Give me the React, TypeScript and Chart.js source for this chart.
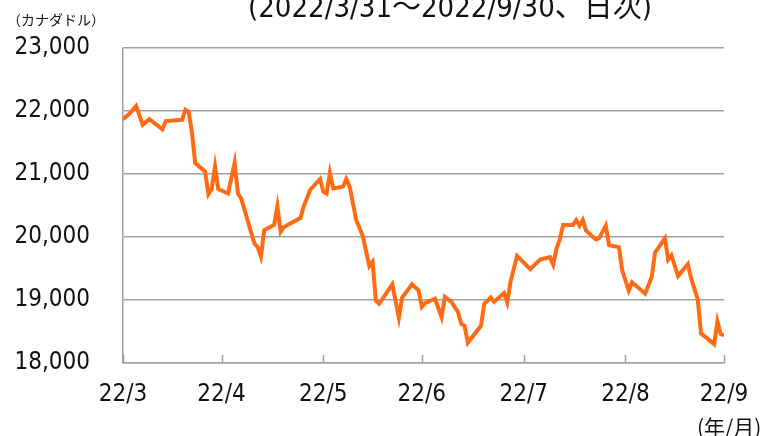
import React, { useEffect, useRef } from "react";
import { Chart, registerables } from "chart.js";

Chart.register(...registerables);

const dates = [
  "2022-03-31", "2022-04-02", "2022-04-04", "2022-04-06", "2022-04-08", "2022-04-12", "2022-04-13",
  "2022-04-18", "2022-04-19", "2022-04-20", "2022-04-21", "2022-04-22", "2022-04-25", "2022-04-26",
  "2022-04-27", "2022-04-28", "2022-04-29", "2022-05-02", "2022-05-04", "2022-05-05", "2022-05-06",
  "2022-05-10", "2022-05-11", "2022-05-12", "2022-05-13", "2022-05-16", "2022-05-17", "2022-05-18",
  "2022-05-19", "2022-05-24", "2022-05-25", "2022-05-27", "2022-05-30", "2022-05-31", "2022-06-01",
  "2022-06-02", "2022-06-03", "2022-06-06", "2022-06-07", "2022-06-08", "2022-06-10", "2022-06-12",
  "2022-06-14", "2022-06-15", "2022-06-16", "2022-06-17", "2022-06-21", "2022-06-23", "2022-06-24",
  "2022-06-27", "2022-06-29", "2022-06-30", "2022-07-01", "2022-07-04", "2022-07-06", "2022-07-07",
  "2022-07-09", "2022-07-11", "2022-07-12", "2022-07-13", "2022-07-14", "2022-07-18", "2022-07-19",
  "2022-07-21", "2022-07-22", "2022-07-25", "2022-07-26", "2022-07-27", "2022-07-29", "2022-08-02",
  "2022-08-05", "2022-08-08", "2022-08-09", "2022-08-10", "2022-08-11", "2022-08-12", "2022-08-15",
  "2022-08-16", "2022-08-17", "2022-08-18", "2022-08-19", "2022-08-22", "2022-08-23", "2022-08-25",
  "2022-08-26", "2022-08-29", "2022-08-30", "2022-09-01", "2022-09-02", "2022-09-06", "2022-09-08",
  "2022-09-09", "2022-09-12", "2022-09-13", "2022-09-14", "2022-09-16", "2022-09-19", "2022-09-20",
  "2022-09-22", "2022-09-23", "2022-09-27", "2022-09-28", "2022-09-29", "2022-09-30",
];

const values = [
  21870, 21960, 22080, 21780, 21870, 21710, 21840,
  21860, 22020, 21990, 21650, 21170, 21040, 20680,
  20760, 21120, 20760, 20690, 21180, 20690, 20610,
  19900, 19840, 19690, 20110, 20190, 20490, 20080,
  20160, 20300, 20480, 20750, 20920, 20720, 20690,
  21020, 20770, 20800, 20920, 20800, 20270, 20020,
  19540, 19610, 18990, 18940, 19250, 18720, 19040,
  19250, 19150, 18890, 18950, 19020, 18730, 19050,
  18970, 18810, 18620, 18590, 18320, 18590, 18940,
  19040, 18970, 19110, 18960, 19290, 19700, 19490,
  19640, 19680, 19560, 19820, 19960, 20190, 20190,
  20270, 20180, 20270, 20100, 19960, 19980, 20180,
  19870, 19840, 19470, 19150, 19280, 19100, 19370,
  19750, 19980, 19640, 19710, 19380, 19570, 19340,
  19010, 18470, 18300, 18660, 18460, 18440,
];

const tickDates = ["2022-03-31", "2022-04-30", "2022-05-31", "2022-06-30", "2022-07-31", "2022-08-31", "2022-09-30"];
const tickLabels = ["22/3", "22/4", "22/5", "22/6", "22/7", "22/8", "22/9"];
const yTicks = [18000, 19000, 20000, 21000, 22000, 23000];

const titleText = "(2022/3/31～2022/9/30、日次)";
const yUnitText = "（カナダドル）";
const xUnitText = "(年/月)";

const BASE = Date.UTC(2022, 2, 31);
const dayOf = (s: string) => {
  const [y, m, d] = s.split("-").map(Number);
  return (Date.UTC(y, m - 1, d) - BASE) / 86400000;
};

const FONT = "'DejaVu Sans Condensed', 'DejaVu Sans', 'Noto Sans CJK JP', sans-serif";
const JFONT = "'Noto Sans CJK JP', 'DejaVu Sans', sans-serif";

export default function App() {
  const ref = useRef<HTMLCanvasElement | null>(null);

  useEffect(() => {
    if (!ref.current) return;
    const tickDays = tickDates.map(dayOf);
    const points = dates.map((d, i) => ({ x: dayOf(d), y: values[i] }));

    const textPlugin = {
      id: "texts",
      afterDraw(chart: any) {
        const ctx = chart.ctx;
        ctx.save();
        ctx.fillStyle = "#111";
        ctx.font = `29px ${FONT}`;
        ctx.textAlign = "center";
        ctx.textBaseline = "alphabetic";
        ctx.fillText(titleText, 450, 17);
        ctx.font = `14px ${JFONT}`;
        ctx.textAlign = "left";
        ctx.textBaseline = "middle";
        ctx.fillText(yUnitText, 7, 20);
        ctx.font = `21px ${JFONT}`;
        ctx.textBaseline = "top";
        ctx.fillText(xUnitText, 697, 417);
        ctx.restore();
      },
      beforeDatasetsDraw(chart: any) {
        const ctx = chart.ctx;
        const xs = chart.scales.x;
        const bottom = chart.chartArea.bottom;
        ctx.save();
        ctx.strokeStyle = "#a0a0a0";
        ctx.lineWidth = 1.5;
        ctx.beginPath();
        tickDays.forEach((d) => {
          const px = Math.round(xs.getPixelForValue(d)) + 0.5;
          ctx.moveTo(px, bottom);
          ctx.lineTo(px, bottom - 8);
        });
        ctx.stroke();
        ctx.restore();
      },
    };

    const chart = new Chart(ref.current, {
      type: "line",
      data: {
        datasets: [
          {
            data: points,
            borderColor: "#FF6A13",
            borderWidth: 4,
            pointRadius: 0,
            tension: 0,
            fill: false,
          },
        ],
      },
      options: {
        animation: false,
        responsive: false,
        maintainAspectRatio: false,
        layout: { padding: { left: 0, right: 43, top: 48, bottom: 0 } },
        plugins: { legend: { display: false }, tooltip: { enabled: false }, title: { display: false } },
        scales: {
          x: {
            type: "linear",
            min: tickDays[0],
            max: tickDays[tickDays.length - 1],
            afterBuildTicks: (scale: any) => {
              scale.ticks = tickDays.map((v) => ({ value: v }));
            },
            afterFit: (scale: any) => {
              scale.height = 73;
            },
            grid: { display: true, drawOnChartArea: false, drawTicks: false },
            border: { display: true, color: "#a0a0a0", width: 1.5 },
            ticks: {
              autoSkip: false,
              maxRotation: 0,
              padding: 17,
              color: "#111",
              font: { family: FONT, size: 24 },
              callback: (v: any) => {
                const i = tickDays.indexOf(Number(v));
                return i >= 0 ? tickLabels[i] : "";
              },
            },
          },
          y: {
            min: yTicks[0],
            max: yTicks[yTicks.length - 1],
            afterBuildTicks: (scale: any) => {
              scale.ticks = yTicks.map((v) => ({ value: v }));
            },
            afterFit: (scale: any) => {
              scale.width = 123;
            },
            grid: { color: "#a0a0a0", lineWidth: 1.5, drawTicks: false },
            border: { display: true, color: "#a0a0a0", width: 1.5 },
            ticks: {
              padding: 33,
              color: "#111",
              font: { family: FONT, size: 24 },
              callback: (v: any) => Number(v).toLocaleString("en-US"),
            },
          },
        },
      },
      plugins: [textPlugin],
    } as any);

    return () => chart.destroy();
  }, []);

  return (
    <div style={{ position: "fixed", left: 0, top: 0, width: 767, height: 436, background: "#fff" }}>
      <canvas ref={ref} width={767} height={436} style={{ width: 767, height: 436, display: "block" }} />
    </div>
  );
}
